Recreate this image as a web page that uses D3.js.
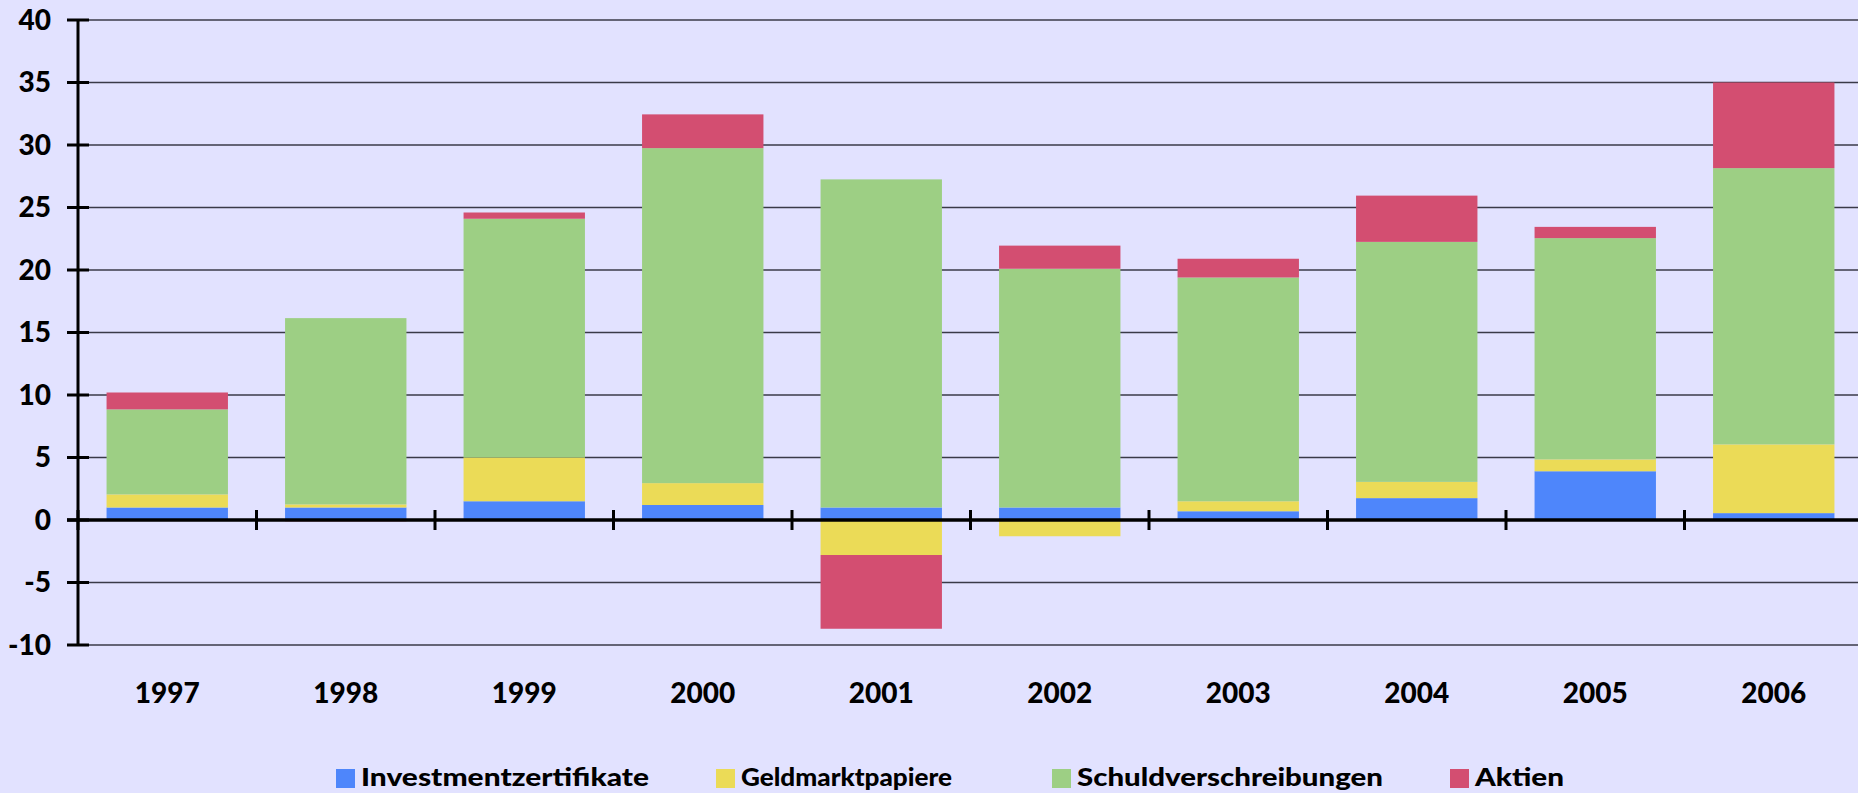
<!DOCTYPE html>
<html>
<head>
<meta charset="utf-8">
<script src="https://cdn.jsdelivr.net/npm/d3@7"></script>
<style>
  html, body { margin: 0; padding: 0; background: #E2E2FF; }
  svg { display: block; }
  text { font-family: Lato, "Open Sans", sans-serif; font-weight: 900; fill: #000; }
</style>
</head>
<body>
<svg id="chart" width="1858" height="793"></svg>
<script>
// ---- data ----
const years = ["1997","1998","1999","2000","2001","2002","2003","2004","2005","2006"];
const investmentzertifikate = [1.0, 1.0, 1.5, 1.2, 1.0, 1.0, 0.7, 1.75, 3.9, 0.55];
const geldmarktpapiere      = [1.05, 0.25, 3.5, 1.75, -2.8, -1.3, 0.8, 1.3, 0.95, 5.5];
const schuldverschreibungen = [6.8, 14.9, 19.1, 26.8, 26.25, 19.1, 17.9, 19.2, 17.7, 22.1];
const aktien                = [1.35, -0.1, 0.5, 2.7, -5.9, 1.85, 1.5, 3.7, 0.9, 6.85];
const seriesNames = ["Investmentzertifikate","Geldmarktpapiere","Schuldverschreibungen","Aktien"];
const seriesColors = ["#4E86FB","#EBDB57","#9DCF84","#D34E71"];
const yTicks = [40,35,30,25,20,15,10,5,0,-5,-10];

(function () {
// ---- build table ----
const seriesArrays = [investmentzertifikate, geldmarktpapiere, schuldverschreibungen, aktien];
const table = years.map((yr, i) => {
  const row = { year: yr };
  seriesNames.forEach((s, k) => row[s] = seriesArrays[k][i]);
  return row;
});

const svg = d3.select("#chart");
const W = 1858;
const plotLeft = 78, plotRight = 1863, plotTop = 20, plotBottom = 645;

const x = d3.scaleBand().domain(years).range([plotLeft, plotRight]).paddingInner(0.32).paddingOuter(0.16);
const y = d3.scaleLinear().domain([-10, 40]).range([plotBottom, plotTop]);

// gridlines
svg.append("g").selectAll("line").data(yTicks.filter(t => t !== 0)).join("line")
  .attr("x1", plotLeft).attr("x2", W)
  .attr("y1", d => y(d)).attr("y2", d => y(d))
  .attr("stroke", "#3a3a48").attr("stroke-width", 1.5);

// stacked bars
const stack = d3.stack().keys(seriesNames).offset(d3.stackOffsetDiverging);
const stacked = stack(table);
svg.append("g").selectAll("g").data(stacked).join("g")
  .attr("fill", (d, i) => seriesColors[i])
  .selectAll("rect").data(d => d).join("rect")
  .attr("x", d => x(d.data.year))
  .attr("width", x.bandwidth())
  .attr("y", d => y(Math.max(d[0], d[1])))
  .attr("height", d => Math.abs(y(d[0]) - y(d[1])));

// y axis
const ya = svg.append("g");
ya.append("line").attr("x1", plotLeft).attr("x2", plotLeft).attr("y1", y(40)).attr("y2", y(-10))
  .attr("stroke", "#000").attr("stroke-width", 3);
ya.selectAll("line.tick").data(yTicks).join("line").attr("class","tick")
  .attr("x1", plotLeft - 11).attr("x2", plotLeft + 11)
  .attr("y1", d => y(d)).attr("y2", d => y(d))
  .attr("stroke", "#000").attr("stroke-width", 3);
ya.selectAll("text").data(yTicks).join("text")
  .attr("x", 51).attr("y", d => y(d)).attr("dy", "0.35em")
  .attr("text-anchor", "end").style("font-size", "28px")
  .text(d => d);

// x axis at zero
const xa = svg.append("g");
xa.append("line").attr("x1", plotLeft - 11).attr("x2", W).attr("y1", y(0)).attr("y2", y(0))
  .attr("stroke", "#000").attr("stroke-width", 3.5);
const step = x.step();
xa.selectAll("line.tick").data(years).join("line").attr("class","tick")
  .attr("x1", d => x(d) - step * x.paddingInner() / 2)
  .attr("x2", d => x(d) - step * x.paddingInner() / 2)
  .attr("y1", y(0) - 10).attr("y2", y(0) + 10)
  .attr("stroke", "#000").attr("stroke-width", 3);
xa.selectAll("text").data(years).join("text")
  .attr("x", d => x(d) + x.bandwidth() / 2).attr("y", 703)
  .attr("text-anchor", "middle").style("font-size", "28px")
  .text(d => d);

// legend
const legendX = [336, 716, 1052, 1450];
const legendW = [288, 211, 306, 89];
const lg = svg.append("g").selectAll("g").data(seriesNames).join("g")
  .attr("transform", (d, i) => `translate(${legendX[i]},0)`);
lg.append("rect").attr("x", 0).attr("y", 769).attr("width", 19).attr("height", 19)
  .attr("fill", (d, i) => seriesColors[i]);
lg.append("text").attr("x", 25).attr("y", 786).style("font-size", "25px")
  .attr("textLength", (d, i) => legendW[i]).attr("lengthAdjust", "spacingAndGlyphs")
  .text(d => d);
})();
</script>
</body>
</html>
